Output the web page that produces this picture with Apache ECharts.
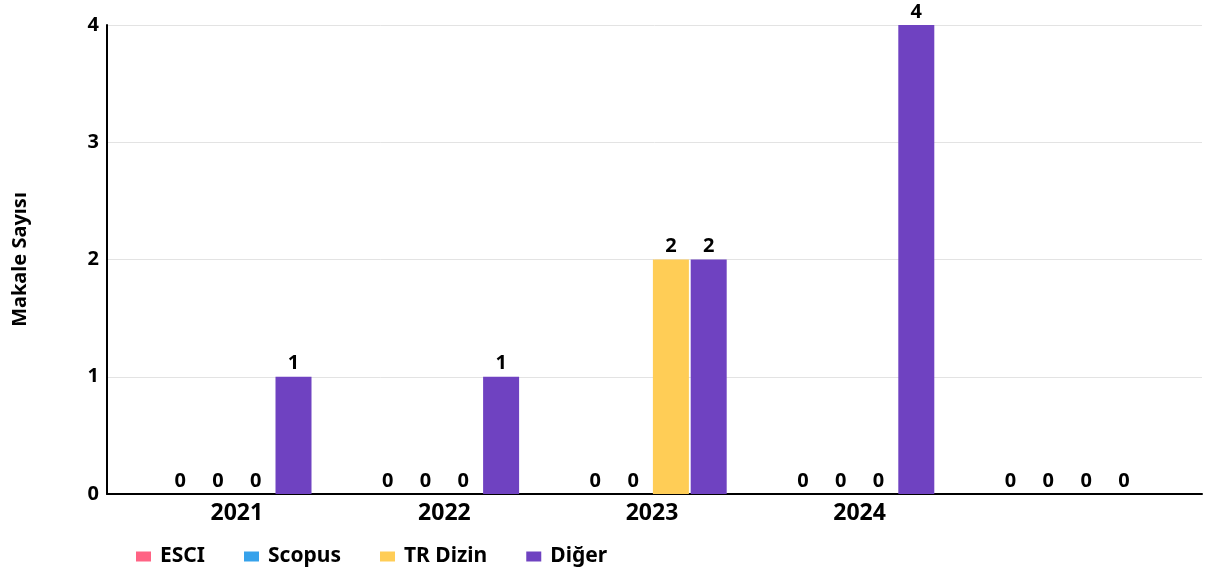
<!DOCTYPE html>
<html>
<head>
<meta charset="utf-8">
<script src="https://cdn.jsdelivr.net/npm/echarts@6/dist/echarts.min.js"></script>
<style>
  html, body { margin: 0; padding: 0; background: #fff; }
  #chart { width: 1217px; height: 572px; }
</style>
</head>
<body>
<div id="chart"></div>
<script>
const categories = ['2021', '2022', '2023', '2024', ''];
const seriesNames = ['ESCI', 'Scopus', 'TR Dizin', 'Diğer'];
const esci = [0, 0, 0, 0, 0];
const scopus = [0, 0, 0, 0, 0];
const trDizin = [0, 0, 2, 0, 0];
const diger = [1, 1, 2, 4, 0];
const yTicks = [0, 1, 2, 3, 4];
const colors = ['#ff6384', '#36a2eb', '#ffcd56', '#6f42c1'];

const FONT = '"Noto Sans", "Open Sans", sans-serif';
const chart = echarts.init(document.getElementById('chart'));

const makeSeries = (name, data, color) => ({
  name: name,
  type: 'bar',
  xAxisIndex: 1,
  yAxisIndex: 1,
  data: data,
  barWidth: 36,
  barGap: '5%',
  itemStyle: { color: color },
  label: {
    show: true,
    position: 'top',
    distance: 3,
    color: '#000',
    fontFamily: FONT,
    fontWeight: 'bold',
    fontSize: 20
  },
  emphasis: { disabled: true }
});

chart.setOption({
  animation: false,
  backgroundColor: '#fff',
  grid: [
    { left: 107, right: 15, top: 25, bottom: 78 },
    { left: 133, right: 46, top: 25, bottom: 78 }
  ],
  xAxis: [
    {
      gridIndex: 0, type: 'value', min: 0, max: 1,
      axisLine: { show: true, onZero: false, lineStyle: { color: '#000', width: 2 } },
      axisTick: { show: false }, axisLabel: { show: false }, splitLine: { show: false }
    },
    {
      gridIndex: 1, type: 'category', data: categories,
      axisLine: { show: false }, axisTick: { show: false },
      axisLabel: { color: '#000', fontFamily: FONT, fontWeight: 'bold', fontSize: 23, margin: 8 }
    }
  ],
  yAxis: [
    {
      gridIndex: 0, type: 'value', min: yTicks[0], max: yTicks[yTicks.length - 1], interval: 1,
      name: 'Makale Sayısı', nameLocation: 'middle', nameGap: 77, nameRotate: 90,
      nameTextStyle: { color: '#000', fontFamily: FONT, fontWeight: 'bold', fontSize: 20 },
      axisLine: { show: true, lineStyle: { color: '#000', width: 2 } },
      axisTick: { show: false },
      axisLabel: { color: '#000', fontFamily: FONT, fontWeight: 'bold', fontSize: 20, margin: 8 },
      splitLine: { show: true, lineStyle: { color: '#e3e3e3', width: 1 } }
    },
    {
      gridIndex: 1, type: 'value', min: yTicks[0], max: yTicks[yTicks.length - 1], interval: 1,
      show: false, splitLine: { show: false }
    }
  ],
  legend: {
    data: seriesNames,
    left: 136, top: 546, padding: 0,
    icon: 'rect', itemWidth: 15, itemHeight: 10, itemGap: 39,
    textStyle: { color: '#000', fontFamily: FONT, fontWeight: 'bold', fontSize: 21, padding: [0, 0, 0, 4] },
    selectedMode: false
  },
  series: [
    makeSeries(seriesNames[0], esci, colors[0]),
    makeSeries(seriesNames[1], scopus, colors[1]),
    makeSeries(seriesNames[2], trDizin, colors[2]),
    makeSeries(seriesNames[3], diger, colors[3])
  ]
});
</script>
</body>
</html>
